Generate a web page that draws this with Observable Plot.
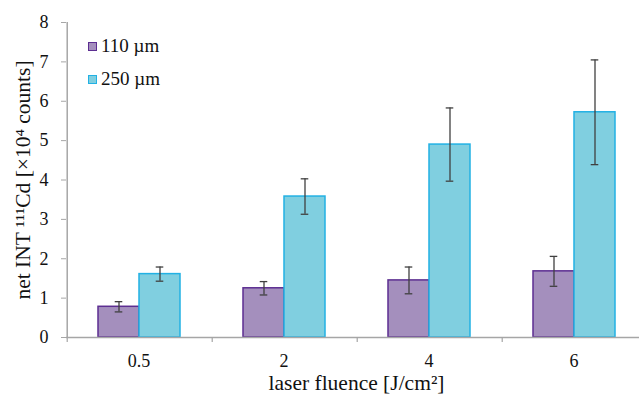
<!DOCTYPE html>
<html><head><meta charset="utf-8">
<script src="https://cdn.jsdelivr.net/npm/d3@7"></script>
<script src="https://cdn.jsdelivr.net/npm/@observablehq/plot@0.6"></script>
<style>
body{margin:0;overflow:hidden;background:#fff}
#wrap{position:relative;width:639px;height:395px}
#wrap g[aria-label="y-axis label"] text, #wrap g[aria-label="fx-axis label"] text{font-size:21.5px}
.lg{position:absolute;left:88px;font:19px "Liberation Serif",serif;color:#111;display:flex;align-items:center;white-space:nowrap}
.lg span.sw{display:inline-block;width:7px;height:7px;margin-right:4px;border:1.5px solid}
</style></head>
<body><div id="wrap"></div>
<script>
const categories = ["0.5", "2", "4", "6"];
const series = ["110 µm", "250 µm"];
const values110 = [0.78, 1.25, 1.45, 1.68];
const values250 = [1.61, 3.58, 4.90, 5.72];
const err110 = [0.13, 0.17, 0.34, 0.38];
const err250 = [0.18, 0.45, 0.93, 1.33];
const yTicks = [0, 1, 2, 3, 4, 5, 6, 7, 8];

const fills = ["#a48fbd", "#80cfe0"];
const strokes = ["#5c2e91", "#22b1e4"];
const grey = "#a6a6a6";

const rows = [];
categories.forEach((c, i) => {
  rows.push({cat: c, series: series[0], value: values110[i], err: err110[i]});
  rows.push({cat: c, series: series[1], value: values250[i], err: err250[i]});
});

const width = 639, marginLeft = 66, marginRight = -7;
const facetW = (width - marginLeft - marginRight) / categories.length;
const po = 0.75;
const bw = facetW / (series.length + 2 * po);
const off = po * bw + bw / 2;
const capInset = (bw - 8) / 2;

const chart = Plot.plot({
  width, height: 395,
  marginLeft, marginRight, marginTop: 22, marginBottom: 58,
  style: {fontFamily: "'Liberation Serif', serif", fontSize: "18px", color: "#111", background: "#fff"},
  fx: {domain: categories, padding: 0, axis: null},
  x: {domain: series, paddingInner: 0, paddingOuter: po, axis: null},
  y: {domain: [0, 8], axis: null},
  marks: [
    Plot.barY(rows.filter(d => d.series === series[0]), {fx: "cat", x: "series", y: "value", fill: fills[0], stroke: strokes[0], strokeWidth: 1.5}),
    Plot.barY(rows.filter(d => d.series === series[1]), {fx: "cat", x: "series", y: "value", fill: fills[1], stroke: strokes[1], strokeWidth: 1.5}),
    Plot.ruleX(rows, {fx: "cat", x: "series", y1: d => d.value - d.err, y2: d => d.value + d.err, stroke: "#404040", strokeWidth: 1.3}),
    Plot.tickY(rows, {fx: "cat", x: "series", y: d => d.value + d.err, stroke: "#404040", strokeWidth: 1.3, insetLeft: capInset, insetRight: capInset}),
    Plot.tickY(rows, {fx: "cat", x: "series", y: d => d.value - d.err, stroke: "#404040", strokeWidth: 1.3, insetLeft: capInset, insetRight: capInset}),
    Plot.ruleY([0], {stroke: grey, strokeWidth: 1.5}),
    Plot.ruleX([categories[0]], {fx: d => d, x: () => series[0], dx: -off, y1: 0, y2: 8, stroke: grey, strokeWidth: 1.5}),
    Plot.ruleX(categories, {fx: d => d, x: () => series[0], dx: -off, y1: 0, y2: 0, insetBottom: -5, stroke: grey, strokeWidth: 1.2}),
    Plot.axisY({ticks: yTicks, tickSize: 5, tickPadding: 13, stroke: grey, fill: "#111", tickFormat: d => d,
      label: "net INT ¹¹¹Cd [×10⁴ counts]", labelAnchor: "center", labelOffset: 52, labelArrow: "none", fontSize: 18}),
    Plot.axisFx({anchor: "bottom", tickSize: 0, tickPadding: 17, label: "laser fluence [J/cm²]", labelAnchor: "center", labelOffset: 52, labelArrow: "none", fontSize: 18})
  ]
});
const wrap = document.getElementById("wrap");
wrap.appendChild(chart);
series.forEach((s, i) => {
  const d = document.createElement("div");
  d.className = "lg";
  d.style.top = (35 + i * 33) + "px";
  d.innerHTML = `<span class="sw" style="background:${fills[i]};border-color:${strokes[i]}"></span>${s}`;
  wrap.appendChild(d);
});
</script></body></html>
